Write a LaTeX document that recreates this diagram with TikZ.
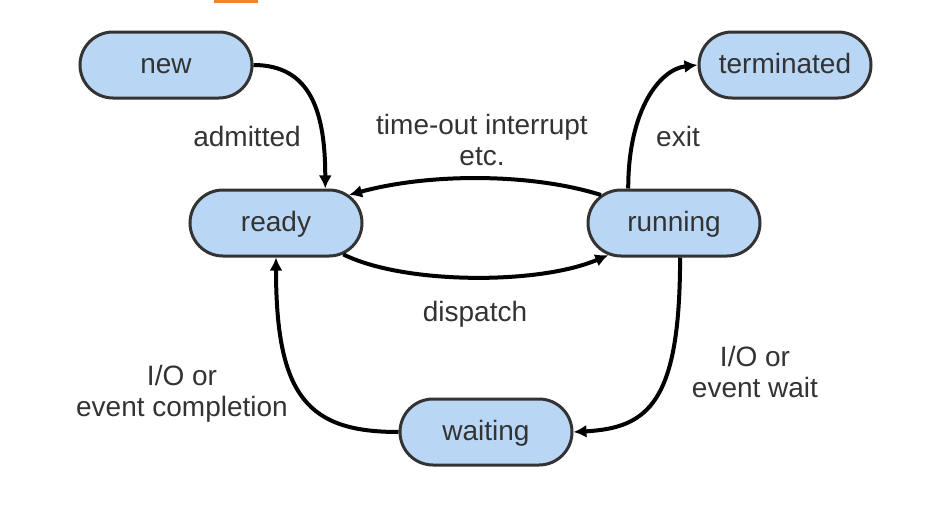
\documentclass[tikz,border=0pt]{standalone}
\usepackage{fontspec}
\setmainfont{Liberation Sans}
\usetikzlibrary{shapes.misc,arrows.meta}
\definecolor{nodefill}{RGB}{185,215,245}
\definecolor{nodeborder}{RGB}{51,51,51}
\definecolor{txt}{RGB}{51,51,51}
\definecolor{accent}{RGB}{236,134,50}
\begin{document}
\begin{tikzpicture}[x=1pt,y=-1pt,
  state/.style={rounded rectangle, draw=nodeborder, fill=nodefill, line width=3pt,
    minimum width=172pt, minimum height=66pt, inner sep=0pt, text=txt,
    text height=20pt, text depth=3pt,
    font=\fontsize{28}{31}\selectfont},
  lbl/.style={text=txt, align=center, inner sep=0pt, font=\fontsize{28}{31}\selectfont},
  conn/.style={draw=black, line width=4pt, -{Latex[length=13pt,width=13pt]}}]
\useasboundingbox (0,0) rectangle (930,506);
\fill[accent] (214,-1) rectangle (258,3);

\node[state] (new) at (166,65) {new};
\node[state] (ready) at (276,223) {ready};
\node[state] (running) at (674,223) {running};
\node[state] (terminated) at (785,65) {terminated};
\node[state] (waiting) at (486,432) {waiting};

\node[lbl] (ladmitted) at (247,136) {admitted};
\node[lbl] (ltimeout) at (482,140) {time-out interrupt\\etc.};
\node[lbl] (lexit) at (678,136) {exit};
\node[lbl, text height=20pt, text depth=3pt] (ldispatch) at (475,313) {dispatch};
\node[lbl] (lwait) at (755,372) {I/O or\\event wait};
\node[lbl] (lcompl) at (182,394) {I/O or\\event completion};

\draw[conn] (new.east) .. controls +(58,0) and +(0,-75) .. (ready.35);
\draw[conn] (running.159) .. controls +(-70,-22) and +(80,-22) .. (ready.21);
\draw[conn] (ready.-25) .. controls +(60,30) and +(-70,30) .. (running.206);
\draw[conn] (running.143) .. controls +(0,-80) and +(-37,4) .. (terminated.west);
\draw[conn] (running.-80) .. controls +(0,145) and +(75,-4) .. (waiting.east);
\draw[conn] (waiting.west) .. controls +(-90,0) and +(0,140) .. (ready.south);
\end{tikzpicture}
\end{document}
